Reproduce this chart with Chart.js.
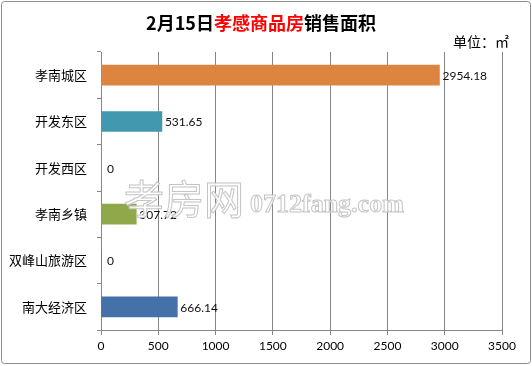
<!DOCTYPE html>
<html>
<head>
<meta charset="utf-8">
<script src="https://cdn.jsdelivr.net/npm/chart.js@4/dist/chart.umd.min.js"></script>
<style>
  html, body { margin: 0; padding: 0; background: #fff; }
  #wrap { width: 532px; height: 366px; position: relative; }
</style>
</head>
<body>
<div id="wrap"><canvas id="salesChart"></canvas></div>
<script>
'use strict';

// ─── Data ─────────────────────────────────────────────
const districts  = ['孝南城区', '开发东区', '开发西区', '孝南乡镇', '双峰山旅游区', '南大经济区'];
const areaValues = [2954.18, 531.65, 0, 307.72, 0, 666.14];
const barColors  = ['#dd8540', '#4198af', '#dd8540', '#8fa94a', '#4471a8', '#4471a8'];
const xTicks     = [0, 500, 1000, 1500, 2000, 2500, 3000, 3500];

const CJK  = '"Noto Sans CJK SC", "Noto Sans", sans-serif';
const NUM  = 'Lato, "Open Sans", sans-serif';
const GRID = '#868686';

// ─── Frame, title, unit, watermark ────────────────────
const decorPlugin = {
  id: 'decor',
  beforeDraw(chart) {
    const c = chart.ctx;
    c.save();
    c.fillStyle = '#fff';
    c.fillRect(0, 0, chart.width, chart.height);
    c.strokeStyle = '#8c8c8c';
    c.lineWidth = 1;
    c.beginPath();
    c.roundRect(1.5, 1.5, 529, 362, 3);
    c.stroke();

    // title, split in black / red / black
    const parts = [['2月15日', '#000'], ['孝感商品房', '#ff0000'], ['销售面积', '#000']];
    c.font = 'bold 18px ' + CJK;
    c.textBaseline = 'middle';
    const total = parts.reduce((a, p) => a + c.measureText(p[0]).width, 0);
    let x = 261 - total / 2;
    parts.forEach(([t, col]) => {
      c.fillStyle = col;
      c.textAlign = 'left';
      c.fillText(t, x, 23);
      x += c.measureText(t).width;
    });

    c.font = '14px ' + CJK;
    c.fillStyle = '#000';
    c.textAlign = 'right';
    c.fillText('单位：㎡', 509, 42);
    c.restore();
  },
  afterDatasetsDraw(chart) {
    const c = chart.ctx;
    const xs = chart.scales.x, ys = chart.scales.y;
    c.save();
    // value labels
    c.font = '12px ' + NUM;
    c.fillStyle = '#111';
    c.textAlign = 'left';
    c.textBaseline = 'middle';
    areaValues.forEach((v, i) => {
      const label = v === 0 ? '0' : v.toFixed(2);
      c.fillText(label, xs.getPixelForValue(v) + (v === 0 ? 6 : 3), ys.getPixelForValue(i) + 1);
    });

    // watermark
    c.lineWidth = 1;
    c.strokeStyle = '#c4c4c4';
    c.fillStyle = 'rgba(255,255,255,0.85)';
    c.textBaseline = 'alphabetic';
    c.font = '40px ' + CJK;
    c.fillText('孝房网', 124, 214);
    c.strokeText('孝房网', 124, 214);
    c.font = 'bold 26px "Liberation Serif", serif';
    c.fillText('0712fang.com', 250, 212);
    c.strokeText('0712fang.com', 250, 212);
    c.restore();
  }
};

new Chart(document.getElementById('salesChart'), {
  type: 'bar',
  data: {
    labels: districts,
    datasets: [{
      data: areaValues,
      backgroundColor: barColors,
      borderWidth: 0,
      barThickness: 20,
    }]
  },
  options: {
    indexAxis: 'y',
    responsive: true,
    maintainAspectRatio: false,
    animation: false,
    layout: { padding: { left: 0, right: 30, top: 52, bottom: 0 } },
    plugins: {
      legend: { display: false },
      tooltip: { enabled: false },
    },
    scales: {
      x: {
        min: 0, max: 3500,
        afterBuildTicks: axis => { axis.ticks = xTicks.map(v => ({ value: v })); },
        afterFit: axis => { axis.height = 36; },
        ticks: { color: '#000', font: { family: NUM, size: 12 }, padding: 4, maxRotation: 0,
                 callback: v => String(v) },
        grid: { color: GRID, lineWidth: 1, tickLength: 5 },
        border: { color: GRID },
      },
      y: {
        afterFit: axis => { axis.width = 101; },
        ticks: { color: '#000', font: { family: CJK, size: 13 }, padding: 10 },
        grid: { drawOnChartArea: false, color: GRID, tickLength: 4 },
        border: { color: GRID },
      }
    }
  },
  plugins: [decorPlugin]
});
</script>
</body>
</html>
